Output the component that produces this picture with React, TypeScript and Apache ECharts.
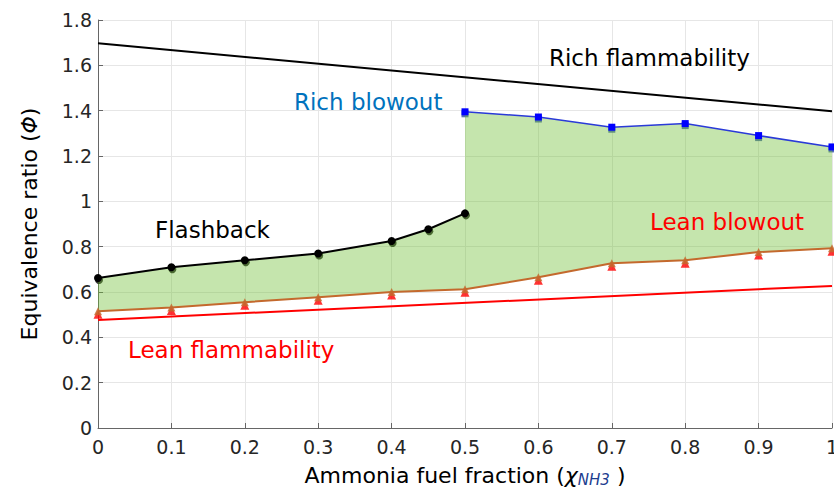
import React, { useEffect, useRef } from "react";
import * as echarts from "echarts";

const xFlash = [0, 0.1, 0.2, 0.3, 0.4, 0.45, 0.5];
const yFlash = [0.662, 0.709, 0.74, 0.77, 0.825, 0.877, 0.947];
const xRich = [0.5, 0.6, 0.7, 0.8, 0.9, 1.0];
const yRich = [1.395, 1.372, 1.327, 1.343, 1.29, 1.24];
const xLean = [0, 0.1, 0.2, 0.3, 0.4, 0.5, 0.6, 0.7, 0.8, 0.9, 1.0];
const yLean = [0.515, 0.532, 0.555, 0.577, 0.6, 0.612, 0.665, 0.727, 0.74, 0.776, 0.793];
const xRichFlam = [0, 1];
const yRichFlam = [1.697, 1.397];
const xLeanFlam = [0, 1];
const yLeanFlam = [0.477, 0.627];

const zip = (xs: number[], ys: number[]) => xs.map((x, i) => [x, ys[i]]);

const FONT = "DejaVu Sans";

export default function App() {
  const ref = useRef<HTMLDivElement>(null);
  useEffect(() => {
    if (!ref.current) return;
    const chart = echarts.init(ref.current, null, { renderer: "svg" });
    const flash = zip(xFlash, yFlash);
    const rich = zip(xRich, yRich);
    const lean = zip(xLean, yLean);
    const polyData = [...flash, ...rich, ...lean.slice().reverse()];
    chart.setOption({
      animation: false,
      textStyle: { fontFamily: FONT },
      grid: { left: 98, right: 2, top: 20, bottom: 66, containLabel: false, outerBoundsMode: "none" },
      xAxis: {
        type: "value",
        min: 0,
        max: 1,
        interval: 0.1,
        name: "{a|Ammonia fuel fraction (}{b|χ}{c|NH3}{a| )}",
        nameLocation: "middle",
        nameGap: 36,
        nameTextStyle: {
          rich: {
            a: { fontFamily: FONT, fontSize: 22, color: "#000" },
            b: { fontFamily: FONT, fontSize: 22, fontStyle: "italic", color: "#000" },
            c: { fontFamily: FONT, fontSize: 15, fontStyle: "italic", color: "#1c3d8f", padding: [8, 0, 0, 0] },
          },
        },
        axisLine: { show: true, lineStyle: { color: "#666", width: 1 } },
        axisTick: { show: true, inside: true, length: 5, lineStyle: { color: "#666" } },
        axisLabel: { fontFamily: FONT, fontSize: 19, color: "#262626", margin: 9 },
        splitLine: { show: true, lineStyle: { color: "#e6e6e6", width: 1 } },
      },
      yAxis: {
        type: "value",
        min: 0,
        max: 1.8,
        interval: 0.2,
        name: "{a|Equivalence ratio (}{b|Φ}{a|)}",
        nameLocation: "middle",
        nameGap: 58,
        nameTextStyle: {
          rich: {
            a: { fontFamily: FONT, fontSize: 22, color: "#000" },
            b: { fontFamily: FONT, fontSize: 22, fontStyle: "italic", color: "#000" },
          },
        },
        axisLine: { show: true, lineStyle: { color: "#666", width: 1 } },
        axisTick: { show: true, inside: true, length: 5, lineStyle: { color: "#666" } },
        axisLabel: { fontFamily: FONT, fontSize: 19, color: "#262626", margin: 6 },
        splitLine: { show: true, lineStyle: { color: "#e6e6e6", width: 1 } },
      },
      series: [
        {
          type: "scatter",
          data: flash,
          symbol: "circle",
          symbolSize: 8,
          symbolOffset: [1, 2],
          itemStyle: { color: "#000" },
          z: 1,
          silent: true,
        },
        {
          type: "scatter",
          data: rich,
          symbol: "rect",
          symbolSize: 7,
          symbolOffset: [0, 2],
          itemStyle: { color: "#3050a0" },
          z: 1,
          silent: true,
        },
        {
          type: "scatter",
          data: lean,
          symbol: "triangle",
          symbolSize: 9,
          symbolOffset: [0, 3],
          itemStyle: { color: "#ff0000" },
          z: 1,
          silent: true,
        },
        {
          type: "custom",
          data: [[0, 0]],
          z: 2,
          silent: true,
          clip: true,
          renderItem: (params: any, api: any) => {
            const pts = polyData.map((p) => api.coord(p));
            return {
              type: "polygon",
              shape: { points: pts },
              style: { fill: "rgba(110,190,50,0.4)", stroke: "none" },
            };
          },
        },
        {
          type: "line",
          data: zip(xRichFlam, yRichFlam),
          symbol: "none",
          lineStyle: { color: "#000", width: 2 },
          z: 3,
        },
        {
          type: "line",
          data: zip(xLeanFlam, yLeanFlam),
          symbol: "none",
          lineStyle: { color: "#ff0000", width: 2 },
          z: 3,
        },
        {
          type: "line",
          data: flash,
          symbol: "circle",
          symbolSize: 8,
          showSymbol: true,
          lineStyle: { color: "#000", width: 2 },
          itemStyle: { color: "#000" },
          z: 4,
        },
        {
          type: "line",
          data: rich,
          symbol: "rect",
          symbolSize: 7,
          showSymbol: true,
          lineStyle: { color: "#2a3ad8", width: 1.5 },
          itemStyle: { color: "#0000ff" },
          z: 4,
        },
        {
          type: "line",
          data: lean,
          symbol: "triangle",
          symbolSize: 8,
          showSymbol: true,
          lineStyle: { color: "#c4692d", width: 2 },
          itemStyle: { color: "#c4692d", opacity: 0.85 },
          z: 4,
        },
      ],
      graphic: [
        { type: "text", left: 549, top: 46, style: { text: "Rich flammability", fontFamily: FONT, fontSize: 23, fill: "#000" }, z: 10 },
        { type: "text", left: 294, top: 90, style: { text: "Rich blowout", fontFamily: FONT, fontSize: 23, fill: "#0072bd" }, z: 10 },
        { type: "text", left: 155, top: 218, style: { text: "Flashback", fontFamily: FONT, fontSize: 23, fill: "#000" }, z: 10 },
        { type: "text", left: 650, top: 210, style: { text: "Lean blowout", fontFamily: FONT, fontSize: 23, fill: "#ff0000" }, z: 10 },
        { type: "text", left: 128, top: 338, style: { text: "Lean flammability", fontFamily: FONT, fontSize: 23, fill: "#ff0000" }, z: 10 },
      ],
    });
    return () => chart.dispose();
  }, []);
  return <div ref={ref} style={{ width: 834, height: 494, position: "absolute", left: 0, top: 0 }} />;
}
